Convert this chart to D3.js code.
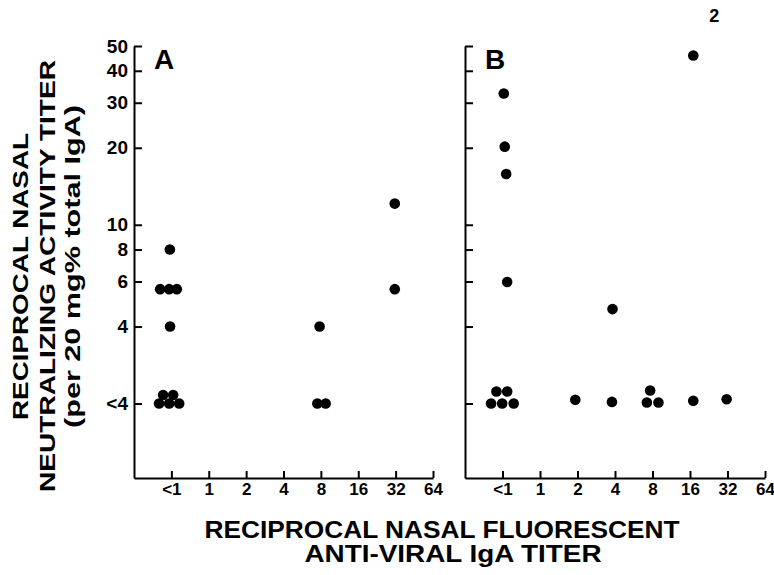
<!DOCTYPE html>
<html>
<head>
<meta charset="utf-8">
<script src="https://cdn.jsdelivr.net/npm/d3@7"></script>
<style>
  body { margin: 0; background: #fff; }
  text { font-family: "Liberation Sans", Arial, sans-serif; font-weight: bold; fill: #000; }
</style>
</head>
<body>
<svg class="s"></svg>
<script>
// tick values and labels (<1 plotted at 0.5, <4 plotted at 2)
var xTicks = [0.5, 1, 2, 4, 8, 16, 32, 64];
var xTickLabels = ['<1', '1', '2', '4', '8', '16', '32', '64'];
var yTicks = [2, 4, 6, 8, 10, 20, 30, 40, 50];
var yTickLabels = ['<4', '4', '6', '8', '10', '20', '30', '40', '50'];

// panel A points (fluorescent titer, neutralizing titer)
var aX = [0.486, 0.406, 0.48, 0.553, 0.488, 0.398, 0.48, 0.578, 0.429, 0.517, 7.81, 7.49, 8.74, 31.5, 31.5];
var aY = [8, 5.6, 5.6, 5.6, 4, 2, 2, 2, 2.16, 2.16, 4, 2, 2, 12.1, 5.6];

// panel B points
var bX = [17, 0.512, 0.521, 0.535, 0.545, 3.82, 0.405, 0.497, 0.615, 0.447, 0.545, 1.92, 3.78, 7.66, 7.21, 8.93, 17, 31.5];
var bY = [45.9, 32.6, 20.2, 15.8, 5.97, 4.68, 2, 2, 2, 2.23, 2.23, 2.07, 2.03, 2.25, 2.02, 2.02, 2.05, 2.08];

var panelNames = ['A', 'B'];
var note = {text: '2', x: 17, y: 45.9}; // "2" above the top point in B

var yTitle = ['RECIPROCAL NASAL', 'NEUTRALIZING ACTIVITY TITER', '(per 20 mg% total IgA)'];
var xTitle = ['RECIPROCAL NASAL FLUORESCENT', 'ANTI-VIRAL IgA TITER'];

var w = 774;
var h = 575;

var svg = d3.select('.s')
            .attr('width', w)
            .attr('height', h);

var y = d3.scaleLog()
          .domain([1.023, 50])
          .range([478, 46]);

var xA = d3.scaleLog().base(2)
           .domain([0.25, 64])
           .range([134, 433]);

var xB = d3.scaleLog().base(2)
           .domain([0.25, 64])
           .range([465, 765]);

var drawPanel = function(x, xs, ys, name, showLabels){
  var g = svg.append('g');

  var yAxis = d3.axisLeft(y)
                .tickValues(yTicks)
                .tickSize(-8)
                .tickSizeOuter(0)
                .tickPadding(6)
                .tickFormat(function(d, i){ return showLabels ? yTickLabels[i] : ''; });

  var yg = g.append('g')
            .attr('transform', 'translate(' + x.range()[0] + ',0)')
            .call(yAxis);
  yg.selectAll('text').style('font-size', '19px');

  var xAxis = d3.axisBottom(x)
                .tickValues(xTicks)
                .tickSize(-7)
                .tickSizeOuter(0)
                .tickPadding(5)
                .tickFormat(function(d, i){ return xTickLabels[i]; });

  var xg = g.append('g')
            .attr('transform', 'translate(0,' + y.range()[0] + ')')
            .call(xAxis);
  xg.selectAll('text').style('font-size', '17px');

  g.selectAll('.domain, .tick line')
   .attr('stroke', '#000')
   .attr('stroke-width', 2);
  g.selectAll('.domain').attr('fill', 'none');

  g.append('text')
   .attr('x', x.range()[0] + 20)
   .attr('y', 69)
   .style('font-size', '28px')
   .text(name);

  g.selectAll('circle')
   .data(xs)
   .enter()
   .append('circle')
   .attr('cx', function(d){ return x(d); })
   .attr('cy', function(d, i){ return y(ys[i]); })
   .attr('r', 5.3)
   .attr('fill', '#000');
};

drawPanel(xA, aX, aY, panelNames[0], true);
drawPanel(xB, bX, bY, panelNames[1], false);

svg.append('text')
   .attr('x', xB(note.x) + 21)
   .attr('y', y(note.y) - 34)
   .attr('text-anchor', 'middle')
   .style('font-size', '18px')
   .text(note.text);

// y title, rotated
var yLines = [
  {cx: 28, cy: 276.5, len: 287},
  {cx: 55, cy: 276, len: 432},
  {cx: 80, cy: 266.5, len: 323}
];
yLines.forEach(function(l, i){
  svg.append('text')
     .attr('transform', 'translate(' + l.cx + ',' + l.cy + ') rotate(-90)')
     .attr('text-anchor', 'middle')
     .attr('textLength', l.len)
     .attr('lengthAdjust', 'spacingAndGlyphs')
     .style('font-size', '22px')
     .text(yTitle[i]);
});

// x title
var xLines = [
  {cx: 442, cy: 538, len: 475},
  {cx: 453, cy: 562, len: 297}
];
xLines.forEach(function(l, i){
  svg.append('text')
     .attr('x', l.cx)
     .attr('y', l.cy)
     .attr('text-anchor', 'middle')
     .attr('textLength', l.len)
     .attr('lengthAdjust', 'spacingAndGlyphs')
     .style('font-size', '23px')
     .text(xTitle[i]);
});
</script>
</body>
</html>
